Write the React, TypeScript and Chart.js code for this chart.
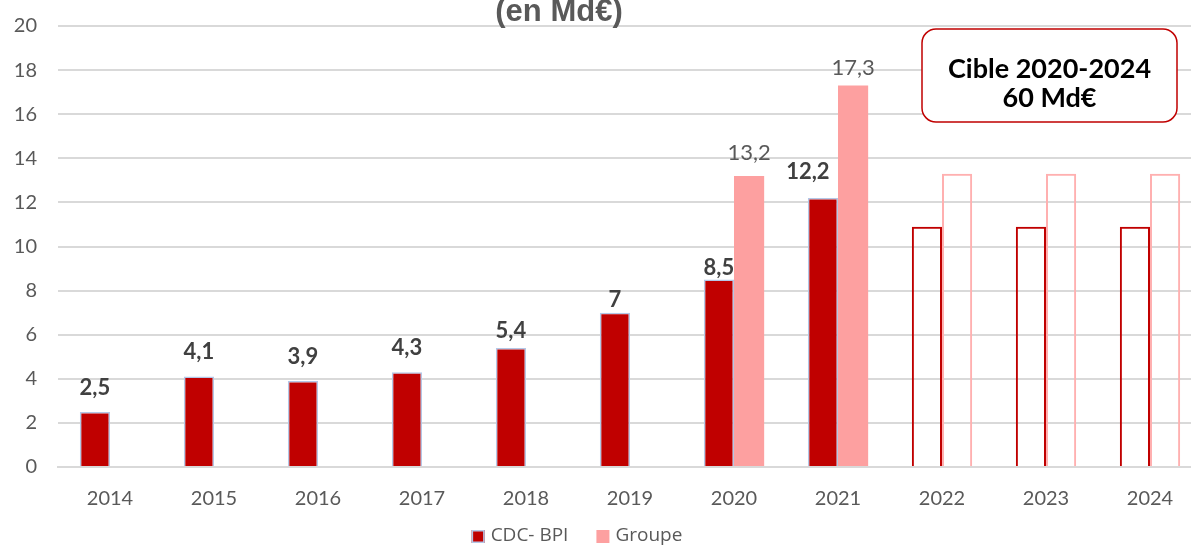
import React, { useEffect, useRef } from 'react';
import { Chart, registerables } from 'chart.js';

Chart.register(...registerables);

const years = ['2014', '2015', '2016', '2017', '2018', '2019', '2020', '2021', '2022', '2023', '2024'];
const cdcBpi = [2.5, 4.1, 3.9, 4.3, 5.4, 7, 8.5, 12.2, 10.9, 10.9, 10.9];
const groupe = [null, null, null, null, null, null, 13.2, 17.3, 13.3, 13.3, 13.3];
const isTarget = [false, false, false, false, false, false, false, false, true, true, true];
const seriesNames = ['CDC- BPI', 'Groupe'];
const titleText = '(en Md€)';
const boxLines = ['Cible 2020-2024', '60 Md€'];
const yMax = 20;
const yStep = 2;

// label placement (style only, in px above bar top)
const cdcLift = [24, 25, 24, 24, 17, 13, 12, 26, 0, 0, 0];
const cdcShift = [0, 0, 0, 0, 0, 0, 0, -15, 0, 0, 0];
const groupeLift = [0, 0, 0, 0, 0, 0, 23, 18, 0, 0, 0];

const RED = '#c00000';
const PINK = '#fda0a0';
const PINK_LINE = '#ffb0b0';
const BLUE_EDGE = '#b4c7e7';
const GREY = '#595959';

const fmt = (v: number) => String(v).replace('.', ',');

export default function App() {
  const ref = useRef<HTMLCanvasElement | null>(null);

  useEffect(() => {
    if (!ref.current) return;

    const overlay = {
      id: 'overlay',
      afterDatasetsDraw(chart: any) {
        const ctx = chart.ctx;
        ctx.save();
        const m0 = chart.getDatasetMeta(0);
        const m1 = chart.getDatasetMeta(1);
        ctx.textAlign = 'center';
        ctx.textBaseline = 'middle';
        m0.data.forEach((el: any, i: number) => {
          if (isTarget[i] || cdcBpi[i] == null) return;
          ctx.font = 'bold 22px Lato';
          ctx.fillStyle = '#404040';
          ctx.fillText(fmt(cdcBpi[i] as number), el.x + cdcShift[i], el.y - cdcLift[i]);
        });
        m1.data.forEach((el: any, i: number) => {
          if (isTarget[i] || groupe[i] == null) return;
          ctx.font = '22px Lato';
          ctx.fillStyle = GREY;
          ctx.fillText(fmt(groupe[i] as number), el.x, el.y - groupeLift[i]);
        });

        // title (partially cropped at the top, as in the source)
        ctx.font = 'bold 31px "Liberation Sans"';
        ctx.fillStyle = GREY;
        ctx.textBaseline = 'alphabetic';
        ctx.fillText(titleText, 559, 21);

        // target box
        const bx = 922, by = 29, bw = 255, bh = 93;
        ctx.beginPath();
        ctx.roundRect(bx, by, bw, bh, 14);
        ctx.fillStyle = '#ffffff';
        ctx.fill();
        ctx.lineWidth = 1.5;
        ctx.strokeStyle = RED;
        ctx.stroke();
        ctx.fillStyle = '#000000';
        ctx.font = 'bold 27px Lato';
        ctx.textBaseline = 'middle';
        ctx.fillText(boxLines[0], bx + bw / 2, by + 40);
        ctx.fillText(boxLines[1], bx + bw / 2, by + 69);

        // legend
        ctx.font = '19px "Open Sans"';
        ctx.textBaseline = 'alphabetic';
        const items = chart.data.datasets.map((ds: any, k: number) => ({
          text: seriesNames[k],
          fill: Array.isArray(ds.backgroundColor) ? ds.backgroundColor[0] : ds.backgroundColor,
          edge: k === 0 ? BLUE_EDGE : null,
        }));
        const box = 13, gapBox = 6, gapItem = 28;
        const widths = items.map((it: any) => box + gapBox + ctx.measureText(it.text).width);
        const total = widths.reduce((a: number, b: number) => a + b, 0) + gapItem * (items.length - 1);
        let lx = 577 - total / 2;
        const baseY = 541;
        const boxTop = 530;
        items.forEach((it: any, k: number) => {
          ctx.fillStyle = it.fill;
          ctx.fillRect(lx, boxTop, box, box);
          if (it.edge) {
            ctx.lineWidth = 1.5;
            ctx.strokeStyle = it.edge;
            ctx.strokeRect(lx + 0.75, boxTop + 0.75, box - 1.5, box - 1.5);
          }
          ctx.fillStyle = GREY;
          ctx.textAlign = 'left';
          ctx.fillText(it.text, lx + box + gapBox, baseY);
          lx += widths[k] + gapItem;
        });
        ctx.restore();
      },
    };

    const chart = new Chart(ref.current, {
      type: 'bar',
      data: {
        labels: years,
        datasets: [
          {
            label: seriesNames[0],
            data: cdcBpi,
            backgroundColor: isTarget.map((t) => (t ? 'rgba(255,255,255,0)' : RED)),
            borderColor: isTarget.map((t) => (t ? RED : BLUE_EDGE)),
            borderWidth: isTarget.map((t) => (t ? 2 : 1.5)),
            barPercentage: 1,
            categoryPercentage: 0.58,
          },
          {
            label: seriesNames[1],
            data: groupe,
            backgroundColor: isTarget.map((t) => (t ? 'rgba(255,255,255,0)' : PINK)),
            borderColor: isTarget.map((t) => (t ? PINK_LINE : PINK)),
            borderWidth: isTarget.map((t) => (t ? 2 : 0)),
            barPercentage: 1,
            categoryPercentage: 0.58,
          },
        ],
      },
      options: {
        responsive: false,
        animation: false,
        layout: { padding: { top: 26, right: 2, left: 0, bottom: 38 } },
        plugins: {
          legend: { display: false },
          tooltip: { enabled: false },
          title: { display: false },
        },
        scales: {
          x: {
            grid: { display: false, drawTicks: false },
            border: { display: true, color: '#d9d9d9', width: 2 },
            ticks: { padding: 20, color: GREY, font: { family: 'Lato', size: 20 } },
            afterFit: (s: any) => {
              s.height = 40;
              s.paddingLeft = 0;
              s.paddingRight = 0;
            },
          },
          y: {
            min: 0,
            max: yMax,
            ticks: { stepSize: yStep, padding: 21, color: GREY, font: { family: 'Lato', size: 20 } },
            grid: { color: '#d9d9d9', lineWidth: 2, drawTicks: false },
            border: { display: false },
            afterFit: (s: any) => {
              s.width = 58;
              s.paddingTop = 0;
              s.paddingBottom = 0;
            },
          },
        },
      },
      plugins: [overlay],
    } as any);

    return () => chart.destroy();
  }, []);

  return (
    <div style={{ position: 'fixed', left: 0, top: 0, width: 1191, height: 545, overflow: 'hidden', background: '#fff' }}>
      <canvas ref={ref} width={1204} height={545} style={{ position: 'absolute', left: 0, top: 0, width: 1204, height: 545 }} />
    </div>
  );
}
